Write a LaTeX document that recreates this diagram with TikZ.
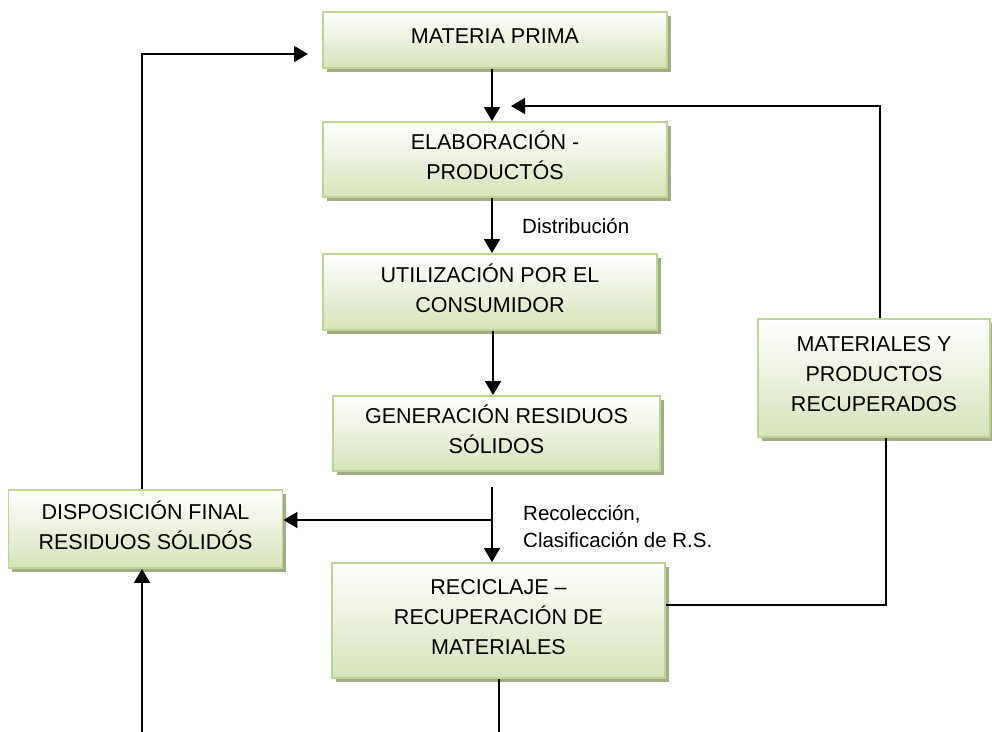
\documentclass[tikz,border=0pt]{standalone}
\usepackage{fontspec}
\setmainfont{Liberation Sans}
\usetikzlibrary{arrows.meta,shadows,calc}

\definecolor{boxedge}{RGB}{190,212,148}
\definecolor{boxfill}{RGB}{213,227,185}
\definecolor{boxshade}{RGB}{160,172,132}

\tikzset{
  flowbox/.style={draw=boxedge, line width=1.9pt, top color=white, bottom color=boxfill,
    align=center, inner sep=0pt, text depth=8pt, font=\fontsize{21.5}{30}\selectfont,
    drop shadow={shadow xshift=3.5pt, shadow yshift=-3.5pt, fill=boxshade, opacity=1}},
  link/.style={line width=1.9pt, draw=black},
  arr/.style={link, -{Triangle[length=14pt,width=16pt]}},
  lbl/.style={anchor=west, align=left, inner sep=0pt, font=\fontsize{20.5}{27}\selectfont}
}

\begin{document}
\begin{tikzpicture}[x=1pt,y=-1pt]
  \useasboundingbox (0,0) rectangle (992,731);

  % process boxes
  \node[flowbox, minimum width=344pt, minimum height=56pt]  (mp)   at (495,40)    {MATERIA PRIMA};
  \node[flowbox, minimum width=344pt, minimum height=75pt]  (elab) at (495,159.5) {ELABORACIÓN -\\PRODUCTÓS};
  \node[flowbox, minimum width=334pt, minimum height=76pt]  (util) at (490,292)   {UTILIZACIÓN POR EL\\CONSUMIDOR};
  \node[flowbox, minimum width=327pt, minimum height=75pt]  (gen)  at (496.5,433.5) {GENERACIÓN RESIDUOS\\SÓLIDOS};
  \node[flowbox, minimum width=274pt, minimum height=78pt]  (disp) at (145.5,529) {DISPOSICIÓN FINAL\\RESIDUOS SÓLIDÓS};
  \node[flowbox, minimum width=333pt, minimum height=115pt] (rec)  at (498.5,620.5) {RECICLAJE –\\RECUPERACIÓN DE\\MATERIALES};
  \node[flowbox, minimum width=232pt, minimum height=118pt] (mat)  at (874,378)   {MATERIALES Y\\PRODUCTOS\\RECUPERADOS};

  % reference abscissas and free ends
  \coordinate (c1) at (492,0);
  \coordinate (c2) at (493,0);
  \coordinate (lx) at (142,0);
  \coordinate (ux) at (880,0);
  \coordinate (dx) at (886,0);
  \coordinate (rx) at (499,0);
  \coordinate (mpin)  at (308,54);
  \coordinate (elin)  at (511,106);
  \coordinate (gsrc)  at (492,487);
  \coordinate (gsplit) at (492,520);
  \coordinate (recout) at (499,735);
  \coordinate (dispin) at (142,735);

  % main chain
  \draw[arr] (mp.south -| c1) -- (elab.north -| c1);
  \draw[arr] (elab.south -| c1) -- (util.north -| c1);
  \draw[arr] (util.south -| c2) -- (gen.north -| c2);
  \draw[arr] (gsrc) -- (rec.north -| gsrc);
  \draw[arr] (gsplit) -- (disp.east |- gsplit);

  % recovery loop
  \draw[link] ($(rec.east)+(0,-15.5)$) -| (mat.south -| dx);
  \draw[arr] (mat.north -| ux) |- (elin);

  % final disposal loop
  \draw[arr] (disp.north -| lx) |- (mpin);
  \draw[arr] (dispin) -- (disp.south -| lx);
  \draw[link] (rec.south -| rx) -- (recout);

  % connector labels
  \node[lbl] (ldist) at (522,226) {Distribución};
  \node[lbl] (lrec)  at (523,527) {Recolección,\\Clasificación de R.S.};
\end{tikzpicture}
\end{document}
